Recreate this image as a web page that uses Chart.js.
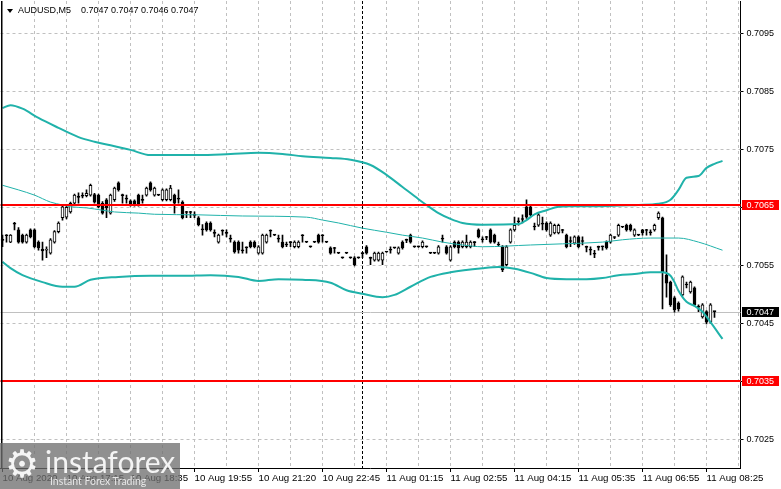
<!DOCTYPE html>
<html><head><meta charset="utf-8">
<script src="https://cdn.jsdelivr.net/npm/chart.js@4.4.0/dist/chart.umd.min.js"></script>
<style>
html,body{margin:0;padding:0;background:#fff;}
#wrap{position:relative;width:781px;height:489px;overflow:hidden;}
canvas{display:block;}
.ttl{position:absolute;top:5px;font:9px "Liberation Sans",Arial,sans-serif;color:#000;white-space:pre;line-height:11px;}
#tri{position:absolute;left:7px;top:9px;width:0;height:0;border-left:3px solid transparent;border-right:3px solid transparent;border-top:4px solid #000;}
#wm{position:absolute;left:0;top:443px;width:180px;height:46px;background:rgba(110,110,110,0.77);}
#gear{position:absolute;left:5px;top:1px;font:38px "DejaVu Sans",sans-serif;color:rgba(255,255,255,0.92);line-height:40px;}
#brand{position:absolute;left:45px;top:3px;font:30px Lato,"Open Sans",sans-serif;color:#f4f4f4;line-height:30px;}
#tag{position:absolute;left:50px;top:32px;font:10.5px Lato,"Open Sans",sans-serif;color:#e6e6e6;line-height:12px;}
</style></head>
<body><div id="wrap">
<canvas id="c" width="781" height="489"></canvas>
<div id="tri"></div><div class="ttl" id="ttlName" style="left:18px"></div><div class="ttl" id="ttlVals" style="left:81px"></div>
<div id="wm"><span id="gear">⚙</span><span id="brand">instaforex</span><span id="tag">Instant Forex Trading</span></div>
</div>
<script>
const symbol = 'AUDUSD', timeframe = 'M5';
const timeLabels = ['10 Aug 2020','10 Aug 17:15','10 Aug 18:35','10 Aug 19:55','10 Aug 21:20','10 Aug 22:45','11 Aug 01:15','11 Aug 02:55','11 Aug 04:15','11 Aug 05:35','11 Aug 06:55','11 Aug 08:25'];
const yTickValues = [0.7025,0.7035,0.7045,0.7055,0.7065,0.7075,0.7085,0.7095];
const yMin = 0.702005, yMax = 0.710057;
const slotCount = 185;
const separatorIndex = 90;
const resistanceLevel = 0.70654, supportLevel = 0.7035;

const open = [
0.70594,0.70602,0.70590,0.70622,0.70611,0.70602,0.70590,0.70611,0.70611,0.70590,
0.70578,0.70576,0.70571,0.70590,0.70608,0.70632,0.70633,0.70642,0.70657,0.70668,
0.70670,0.70670,0.70671,0.70672,0.70671,0.70657,0.70663,0.70640,0.70663,0.70692,
0.70671,0.70665,0.70661,0.70661,0.70671,0.70663,0.70671,0.70692,0.70671,0.70671,
0.70663,0.70663,0.70663,0.70671,0.70665,0.70659,0.70642,0.70642,0.70637,0.70632,
0.70612,0.70623,0.70623,0.70606,0.70590,0.70610,0.70606,0.70596,0.70590,0.70590,
0.70576,0.70581,0.70590,0.70590,0.70571,0.70571,0.70590,0.70610,0.70602,0.70596,
0.70590,0.70586,0.70590,0.70582,0.70582,0.70602,0.70590,0.70582,0.70590,0.70602,
0.70602,0.70590,0.70580,0.70580,0.70571,0.70563,0.70571,0.70563,0.70563,0.70563,
0.70571,0.70582,0.70563,0.70559,0.70559,0.70559,0.70573,0.70577,0.70580,0.70571,
0.70590,0.70594,0.70602,0.70582,0.70582,0.70582,0.70582,0.70571,0.70571,0.70571,
0.70596,0.70582,0.70559,0.70590,0.70590,0.70582,0.70582,0.70582,0.70590,0.70611,
0.70595,0.70599,0.70611,0.70602,0.70586,0.70582,0.70551,0.70590,0.70611,0.70626,
0.70630,0.70651,0.70651,0.70617,0.70619,0.70622,0.70623,0.70602,0.70606,0.70606,
0.70611,0.70602,0.70592,0.70588,0.70599,0.70592,0.70582,0.70577,0.70570,0.70582,
0.70582,0.70590,0.70590,0.70598,0.70602,0.70616,0.70619,0.70619,0.70602,0.70602,
0.70611,0.70611,0.70607,0.70611,0.70632,0.70632,0.70533,0.70521,0.70494,0.70485,
0.70499,0.70517,0.70504,0.70511,0.70479,0.70461,0.70470,0.70452,0.70470];
const high = [
0.70602,0.70603,0.70603,0.70624,0.70615,0.70604,0.70604,0.70613,0.70613,0.70592,
0.70590,0.70582,0.70596,0.70610,0.70625,0.70653,0.70655,0.70659,0.70673,0.70675,
0.70675,0.70680,0.70690,0.70674,0.70673,0.70660,0.70665,0.70673,0.70685,0.70694,
0.70673,0.70671,0.70663,0.70663,0.70673,0.70671,0.70685,0.70694,0.70685,0.70672,
0.70682,0.70682,0.70688,0.70673,0.70680,0.70661,0.70643,0.70643,0.70642,0.70634,
0.70620,0.70625,0.70625,0.70611,0.70604,0.70611,0.70611,0.70602,0.70592,0.70592,
0.70590,0.70582,0.70592,0.70592,0.70584,0.70604,0.70604,0.70611,0.70603,0.70602,
0.70602,0.70590,0.70591,0.70592,0.70592,0.70603,0.70591,0.70583,0.70591,0.70604,
0.70603,0.70591,0.70582,0.70581,0.70572,0.70564,0.70572,0.70564,0.70565,0.70564,
0.70572,0.70584,0.70564,0.70573,0.70573,0.70573,0.70574,0.70582,0.70581,0.70582,
0.70592,0.70595,0.70604,0.70583,0.70583,0.70592,0.70583,0.70572,0.70572,0.70584,
0.70602,0.70584,0.70584,0.70592,0.70592,0.70592,0.70602,0.70592,0.70591,0.70613,
0.70599,0.70600,0.70613,0.70604,0.70590,0.70584,0.70584,0.70613,0.70633,0.70632,
0.70637,0.70663,0.70653,0.70623,0.70639,0.70633,0.70625,0.70625,0.70621,0.70621,
0.70612,0.70604,0.70599,0.70601,0.70601,0.70599,0.70583,0.70582,0.70576,0.70583,
0.70583,0.70592,0.70604,0.70599,0.70621,0.70617,0.70621,0.70621,0.70613,0.70603,
0.70612,0.70612,0.70611,0.70621,0.70642,0.70633,0.70568,0.70523,0.70496,0.70487,
0.70532,0.70521,0.70523,0.70513,0.70482,0.70484,0.70472,0.70484,0.70470];
const low = [
0.70582,0.70590,0.70589,0.70611,0.70588,0.70588,0.70588,0.70597,0.70580,0.70576,
0.70559,0.70563,0.70569,0.70588,0.70606,0.70628,0.70630,0.70640,0.70655,0.70657,
0.70666,0.70668,0.70669,0.70657,0.70649,0.70638,0.70632,0.70638,0.70660,0.70678,
0.70657,0.70657,0.70652,0.70652,0.70652,0.70657,0.70669,0.70678,0.70669,0.70670,
0.70661,0.70661,0.70661,0.70640,0.70657,0.70630,0.70632,0.70632,0.70632,0.70618,
0.70602,0.70609,0.70609,0.70599,0.70588,0.70602,0.70599,0.70590,0.70571,0.70571,
0.70571,0.70571,0.70580,0.70580,0.70569,0.70569,0.70588,0.70599,0.70601,0.70590,
0.70580,0.70582,0.70582,0.70580,0.70580,0.70590,0.70589,0.70581,0.70589,0.70588,
0.70590,0.70589,0.70569,0.70571,0.70570,0.70562,0.70570,0.70562,0.70549,0.70562,
0.70563,0.70569,0.70551,0.70557,0.70557,0.70551,0.70572,0.70571,0.70579,0.70569,
0.70578,0.70589,0.70588,0.70581,0.70581,0.70580,0.70581,0.70570,0.70570,0.70569,
0.70590,0.70569,0.70557,0.70580,0.70571,0.70580,0.70580,0.70580,0.70582,0.70597,
0.70590,0.70594,0.70588,0.70588,0.70582,0.70539,0.70549,0.70588,0.70609,0.70619,
0.70623,0.70631,0.70635,0.70611,0.70617,0.70611,0.70609,0.70600,0.70604,0.70604,
0.70606,0.70580,0.70582,0.70586,0.70580,0.70585,0.70573,0.70568,0.70563,0.70576,
0.70576,0.70578,0.70588,0.70596,0.70600,0.70615,0.70609,0.70609,0.70600,0.70601,
0.70602,0.70602,0.70602,0.70609,0.70629,0.70475,0.70495,0.70479,0.70469,0.70471,
0.70497,0.70511,0.70502,0.70480,0.70470,0.70459,0.70449,0.70450,0.70460];
const close = [
0.70593,0.70601,0.70602,0.70621,0.70590,0.70590,0.70602,0.70599,0.70582,0.70580,
0.70575,0.70577,0.70594,0.70608,0.70623,0.70651,0.70650,0.70657,0.70671,0.70667,
0.70669,0.70674,0.70688,0.70659,0.70651,0.70640,0.70649,0.70671,0.70683,0.70680,
0.70670,0.70664,0.70654,0.70654,0.70654,0.70662,0.70683,0.70680,0.70683,0.70671,
0.70680,0.70680,0.70683,0.70657,0.70664,0.70632,0.70641,0.70641,0.70636,0.70620,
0.70611,0.70611,0.70611,0.70605,0.70602,0.70609,0.70605,0.70595,0.70573,0.70576,
0.70575,0.70580,0.70582,0.70582,0.70582,0.70602,0.70602,0.70609,0.70602,0.70595,
0.70582,0.70585,0.70589,0.70590,0.70590,0.70601,0.70590,0.70582,0.70590,0.70590,
0.70601,0.70590,0.70571,0.70579,0.70571,0.70563,0.70571,0.70563,0.70551,0.70563,
0.70570,0.70571,0.70562,0.70571,0.70571,0.70571,0.70573,0.70576,0.70580,0.70580,
0.70580,0.70593,0.70590,0.70582,0.70582,0.70590,0.70582,0.70571,0.70571,0.70582,
0.70595,0.70571,0.70582,0.70582,0.70580,0.70590,0.70590,0.70590,0.70589,0.70599,
0.70594,0.70598,0.70590,0.70590,0.70585,0.70542,0.70582,0.70611,0.70619,0.70625,
0.70629,0.70633,0.70637,0.70616,0.70637,0.70621,0.70611,0.70623,0.70619,0.70619,
0.70610,0.70582,0.70591,0.70599,0.70582,0.70591,0.70581,0.70576,0.70569,0.70581,
0.70582,0.70580,0.70602,0.70598,0.70619,0.70616,0.70611,0.70611,0.70611,0.70602,
0.70606,0.70610,0.70606,0.70619,0.70640,0.70538,0.70519,0.70482,0.70473,0.70475,
0.70530,0.70516,0.70521,0.70482,0.70478,0.70482,0.70452,0.70482,0.70470];

const upperX = [0,2,5,9,14,19,23,27,32,37,43,49,57,64,70,75,82,87,92,96,100,104,106,109,112,115,120,129,131,133,136,139,142,150,159,164,167,169,171,174,176,178,180];
const upperY = [0.70821,0.70826,0.70820,0.70804,0.70787,0.70771,0.70763,0.70757,0.70749,0.70740,0.70740,0.70740,0.70742,0.70744,0.70742,0.70738,0.70735,0.70732,0.70723,0.70706,0.70685,0.70664,0.70654,0.70640,0.70630,0.70623,0.70620,0.70621,0.70628,0.70638,0.70645,0.70651,0.70652,0.70652,0.70654,0.70656,0.70663,0.70680,0.70701,0.70704,0.70718,0.70725,0.70730];
const middleX = [0,4,8,12,15,17,21,25,28,34,38,49,60,76,80,84,90,96,100,105,110,115,120,132,140,150,155,162,169,174,180];
const middleY = [0.70688,0.70680,0.70671,0.70659,0.70654,0.70651,0.70649,0.70645,0.70642,0.70640,0.70638,0.70637,0.70635,0.70633,0.70628,0.70623,0.70614,0.70607,0.70602,0.70597,0.70590,0.70585,0.70582,0.70585,0.70587,0.70590,0.70594,0.70597,0.70597,0.70590,0.70576];
const lowerX = [0,2,5,10,15,18,22,29,37,45,52,59,64,69,75,82,86,90,95,98,102,107,112,120,124,128,132,136,141,146,150,154,158,162,165,167,168,169,171,173,175,177,180];
const lowerY = [0.70556,0.70545,0.70533,0.70521,0.70513,0.70513,0.70525,0.70530,0.70532,0.70532,0.70533,0.70530,0.70523,0.70526,0.70525,0.70520,0.70507,0.70501,0.70495,0.70499,0.70513,0.70530,0.70538,0.70545,0.70547,0.70544,0.70537,0.70528,0.70526,0.70526,0.70528,0.70533,0.70535,0.70538,0.70538,0.70532,0.70521,0.70506,0.70487,0.70480,0.70470,0.70452,0.70423];

const FONT = '"Liberation Sans", Arial, sans-serif';
const TEAL = '#20b2aa';
const last = close.length - 1;
const fmt = v => v.toFixed(4);
document.getElementById('ttlName').textContent = symbol + ',' + timeframe;
document.getElementById('ttlVals').textContent = [open[last], high[last], low[last], close[last]].map(fmt).join(' ');

const labels = Array.from({length: slotCount}, (_, i) => i);
function sparse(xs, ys) {
  const arr = new Array(slotCount).fill(null);
  xs.forEach((x, k) => { arr[x] = ys[k]; });
  return arr;
}

const overlay = {
  id: 'mt4overlay',
  beforeDatasetsDraw(chart) {
    const {ctx, chartArea: a, scales: {x, y}} = chart;
    ctx.save();
    ctx.lineWidth = 1;
    ctx.strokeStyle = '#c0c0c0';
    ctx.setLineDash([3, 3]);
    ctx.beginPath();
    yTickValues.forEach(v => {
      const py = Math.round(y.getPixelForValue(v)) + 0.5;
      ctx.moveTo(a.left, py); ctx.lineTo(a.right, py);
    });
    for (let i = 8; i < slotCount; i += 8) {
      const px = Math.floor(x.getPixelForValue(i)) + 0.5;
      ctx.moveTo(px, a.top); ctx.lineTo(px, a.bottom);
    }
    ctx.stroke();
    ctx.strokeStyle = '#000';
    ctx.setLineDash([3, 2]);
    ctx.beginPath();
    const sx = Math.floor(x.getPixelForValue(separatorIndex)) + 0.5;
    ctx.moveTo(sx, a.top); ctx.lineTo(sx, a.bottom);
    ctx.stroke();
    ctx.setLineDash([]);
    ctx.strokeStyle = '#c0c0c0';
    ctx.beginPath();
    const by = Math.round(y.getPixelForValue(close[last])) + 0.5;
    ctx.moveTo(a.left, by); ctx.lineTo(a.right, by);
    ctx.stroke();
    ctx.restore();
  },
  afterDatasetsDraw(chart) {
    const {ctx, chartArea: a, scales: {y}} = chart;
    ctx.save();
    ctx.strokeStyle = '#ff0000';
    ctx.lineWidth = 2;
    [resistanceLevel, supportLevel].forEach(v => {
      const py = Math.round(y.getPixelForValue(v));
      ctx.beginPath(); ctx.moveTo(a.left, py); ctx.lineTo(a.right, py); ctx.stroke();
    });
    ctx.restore();
  },
  afterDraw(chart) {
    const {ctx, chartArea: a, scales: {y}} = chart;
    ctx.save();
    ctx.fillStyle = '#000';
    ctx.fillRect(1, a.top, 1.5, a.bottom - a.top);
    const boxes = [[resistanceLevel, '#ff0000'], [supportLevel, '#ff0000'], [close[last], '#000000']];
    ctx.font = '9px ' + FONT;
    ctx.textBaseline = 'middle';
    ctx.textAlign = 'left';
    boxes.forEach(([v, col]) => {
      const py = Math.round(y.getPixelForValue(v));
      ctx.fillStyle = col;
      ctx.fillRect(a.right + 1.5, py - 5, 37, 10);
      ctx.fillStyle = '#fff';
      ctx.fillText(fmt(v), a.right + 6, py + 0.5);
    });
    ctx.restore();
  }
};

new Chart(document.getElementById('c'), {
  type: 'bar',
  data: {
    labels,
    datasets: [
      {type: 'line', label: 'upper', data: sparse(upperX, upperY), borderColor: TEAL, borderWidth: 2, pointRadius: 0, spanGaps: true, cubicInterpolationMode: 'monotone', order: 0},
      {type: 'line', label: 'middle', data: sparse(middleX, middleY), borderColor: TEAL, borderWidth: 1, pointRadius: 0, spanGaps: true, cubicInterpolationMode: 'monotone', order: 0},
      {type: 'line', label: 'lower', data: sparse(lowerX, lowerY), borderColor: TEAL, borderWidth: 2, pointRadius: 0, spanGaps: true, cubicInterpolationMode: 'monotone', order: 0},
      {type: 'bar', label: 'wick', data: low.map((l, i) => [l, high[i]]), backgroundColor: '#000', borderWidth: 0, barThickness: 1, grouped: false, order: 2},
      {type: 'bar', label: 'body', data: open.map((o, i) => [o, close[i]]),
        backgroundColor: open.map((o, i) => close[i] > o ? '#ffffff' : '#000000'),
        borderColor: '#000', borderWidth: 1, borderSkipped: false, barThickness: 3, minBarLength: 1, grouped: false, order: 1}
    ]
  },
  options: {
    responsive: false,
    animation: false,
    devicePixelRatio: 1,
    layout: {padding: {left: 0.5, top: 1, right: 0, bottom: 0}},
    plugins: {legend: {display: false}, tooltip: {enabled: false}, title: {display: false}},
    events: [],
    scales: {
      x: {
        type: 'category',
        offset: true,
        afterFit: s => { s.height = 21; s.paddingLeft = 0; s.paddingRight = 0; },
        grid: {display: true, drawOnChartArea: false, drawTicks: true, tickLength: 4, offset: false,
          tickColor: c => (c.index % 16 === 0 ? '#000' : 'rgba(0,0,0,0)')},
        border: {display: true, color: '#000', width: 1},
        ticks: {autoSkip: false, maxRotation: 0, minRotation: 0, align: 'start', padding: 1, color: '#000',
          font: {family: FONT, size: 9.7},
          callback: (v, i) => (i % 16 === 0 && timeLabels[i / 16]) ? timeLabels[i / 16] : ''}
      },
      y: {
        position: 'right',
        min: yMin, max: yMax,
        afterBuildTicks: s => { s.ticks = yTickValues.map(v => ({value: v})); },
        afterFit: s => { s.width = 40.5; s.paddingTop = 0; s.paddingBottom = 0; },
        grid: {display: true, drawOnChartArea: false, drawTicks: true, tickLength: 3, tickColor: '#000'},
        border: {display: true, color: '#000', width: 1},
        ticks: {padding: 3, color: '#000', font: {family: FONT, size: 9}, callback: v => Number(v).toFixed(4)}
      }
    }
  },
  plugins: [overlay]
});
</script>
</body></html>
